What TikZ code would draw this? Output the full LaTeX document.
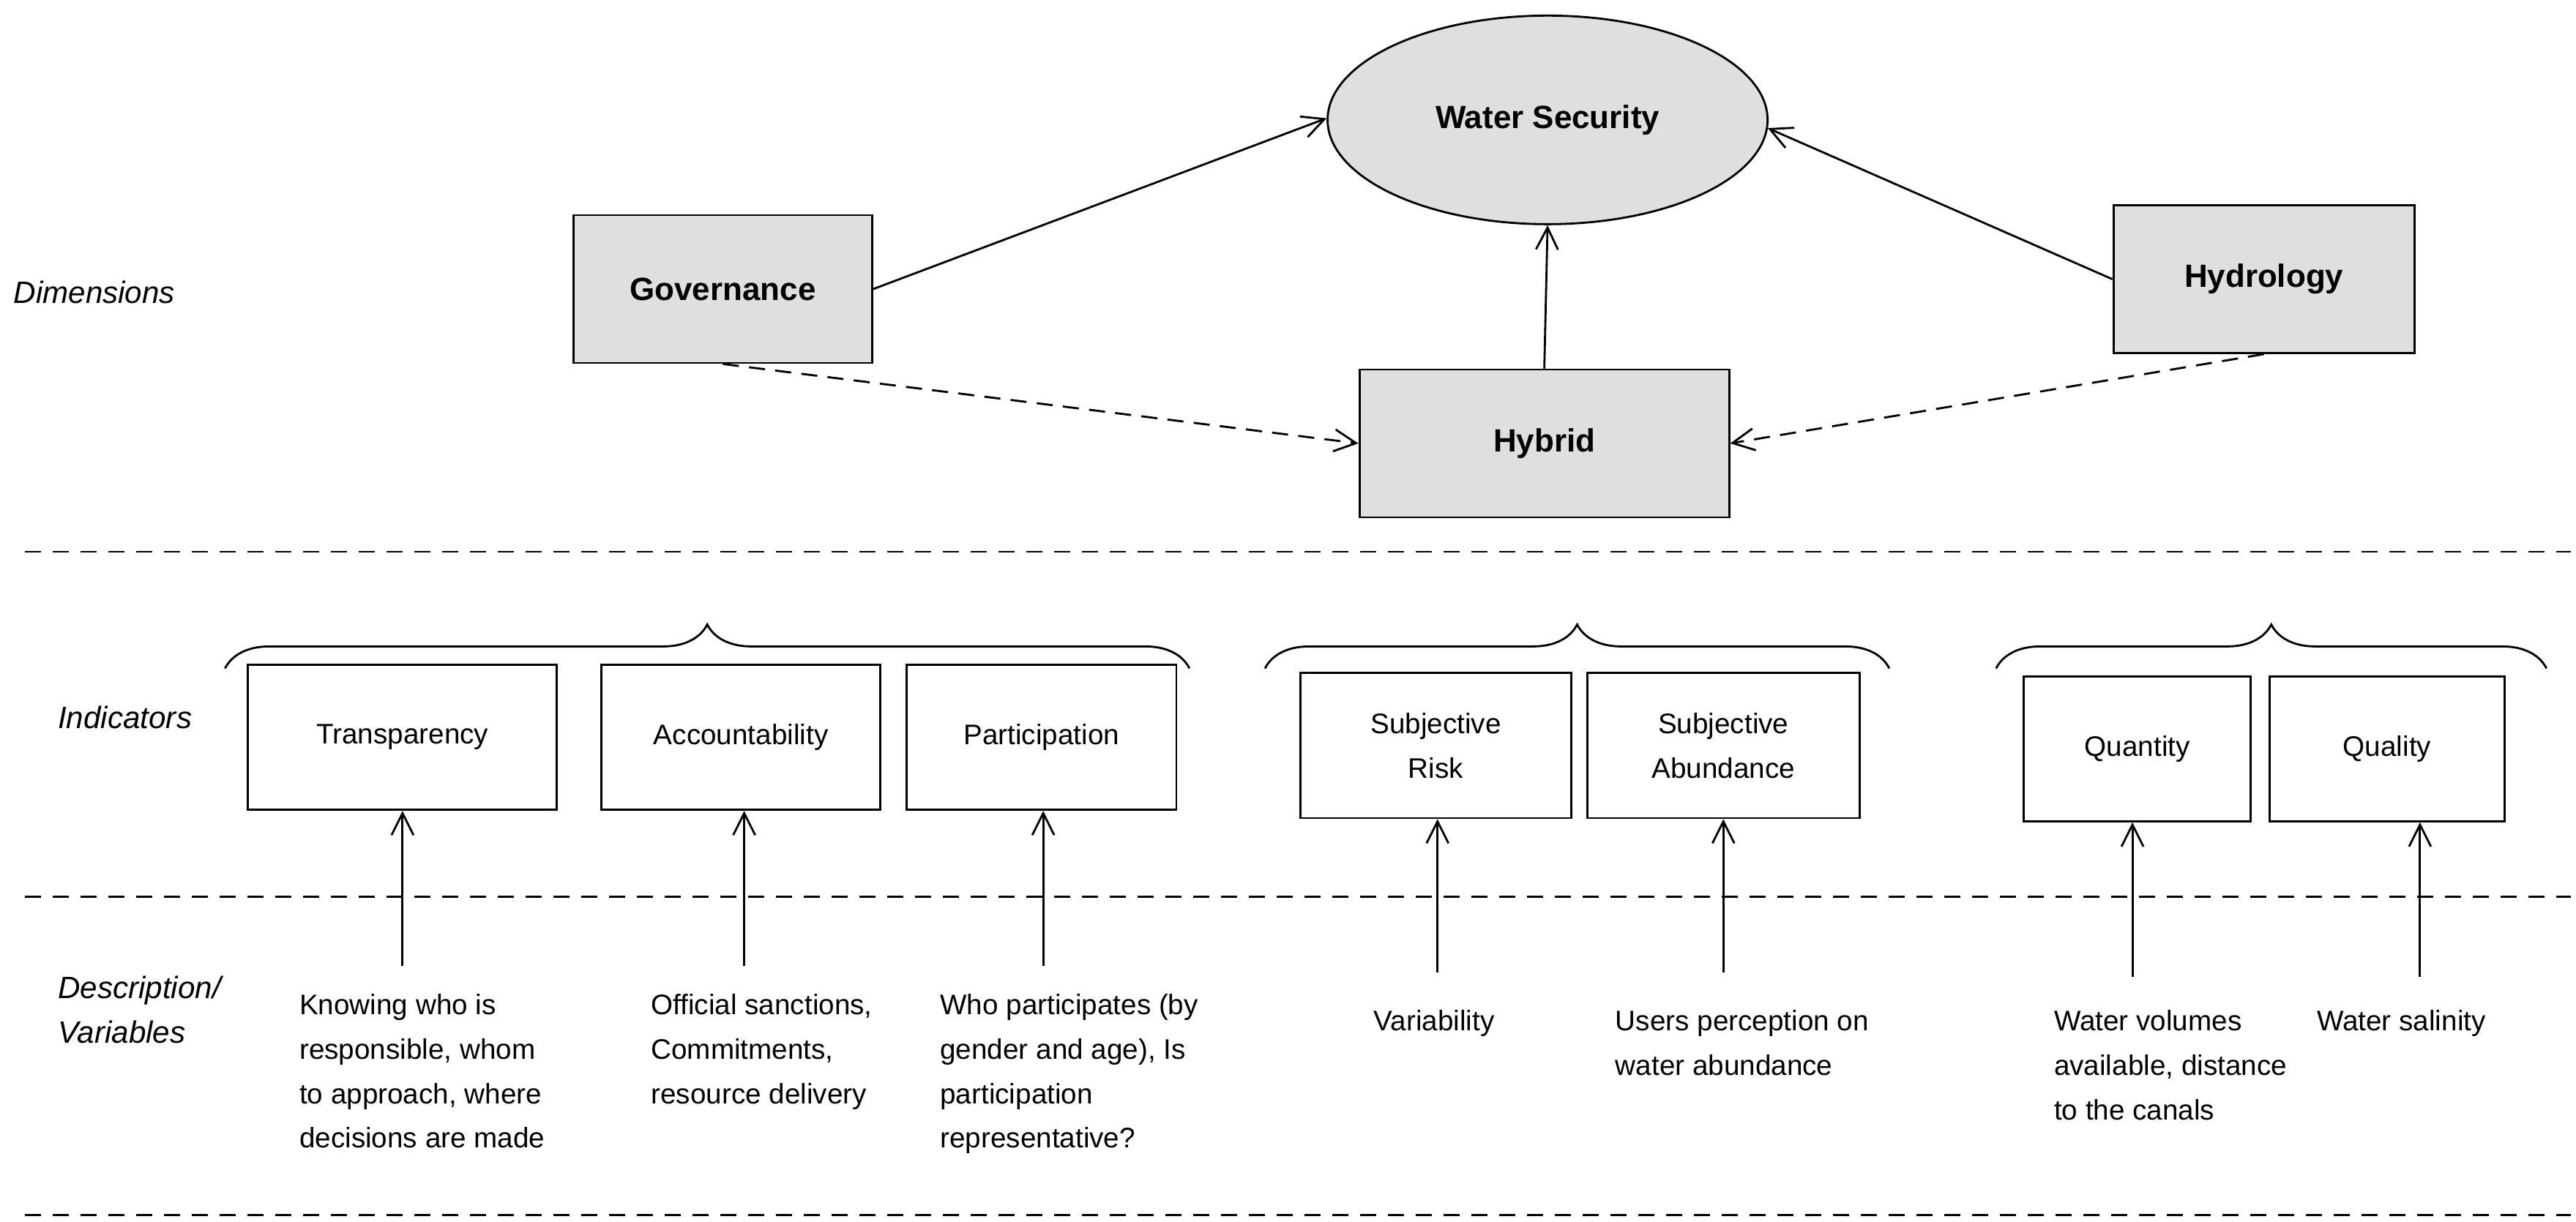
\documentclass[tikz,border=0pt]{standalone}
\usepackage{fontspec}
\setmainfont{Liberation Sans}
\usetikzlibrary{shapes.geometric, decorations.pathreplacing, arrows.meta}

\tikzset{
    dim/.style={draw, thick, fill=gray!25, font=\fontsize{12.5}{15}\selectfont\bfseries, minimum height=2.02cm},
    ind/.style={draw, thick, fill=white, align=center, minimum height=1.98cm},
    desc/.style={anchor=north west, align=left, inner sep=0pt},
    row/.style={font=\fontsize{12}{17.5}\selectfont\itshape, align=left, anchor=west, inner sep=0pt},
    link/.style={thick, -{Straight Barb[length=3mm, width=3mm]}},
    sep/.style={thick, dash pattern=on 2.2mm off 1.6mm},
    grp/.style={thick, decorate, decoration={brace, amplitude=6mm}}
}

\begin{document}
\begin{tikzpicture}[x=0.2244mm, y=-0.2244mm, font=\fontsize{11}{17.3}\selectfont]
    \useasboundingbox (0,0) rectangle (1568,744);

    % Dimensions
    \node[dim, ellipse, minimum width=6.01cm, minimum height=2.85cm] (ws) at (942,73) {Water Security};
    \node[dim, minimum width=4.08cm] (gov) at (440,176) {Governance};
    \node[dim, minimum width=5.05cm] (hyb) at (940,270) {Hybrid};
    \node[dim, minimum width=4.11cm] (hydro) at (1378,170) {Hydrology};

    \draw[link] (gov.east) -- (ws.west |- 0,72);
    \draw[link] (hydro.west) -- (1076,78);
    \draw[link] (hyb.north) -- (ws.south);
    \draw[link, dash pattern=on 2.2mm off 1.4mm] (gov.south) -- (hyb.west);
    \draw[link, dash pattern=on 2.2mm off 1.4mm] (hydro.south) -- (hyb.east);

    % Separators
    \foreach \y in {336, 546, 740}
        \draw[sep] (15,\y) -- (1565,\y);

    % Row labels
    \node[row] (lbldim) at (8,178) {Dimensions};
    \node[row] (lblind) at (35,437) {Indicators};
    \node[row, anchor=north west] (lbldesc) at (35,594) {Description/\\Variables};

    % Braces
    \draw[grp] (137,407) -- (724,407);
    \draw[grp] (770,407) -- (1150,407);
    \draw[grp] (1215,407) -- (1550,407);

    % Indicators
    \node[ind, minimum width=4.22cm] (trans) at (245,449) {Transparency};
    \node[ind, minimum width=3.81cm] (acc) at (451,449) {Accountability};
    \node[ind, minimum width=3.68cm] (part) at (634,449) {Participation};
    \node[ind, minimum width=3.70cm] (risk) at (874,454) {Subjective\\Risk};
    \node[ind, minimum width=3.72cm] (abund) at (1049,454) {Subjective\\Abundance};
    \node[ind, minimum width=3.10cm] (quant) at (1301,456) {Quantity};
    \node[ind, minimum width=3.21cm] (qual) at (1453,456) {Quality};

    % Descriptions
    \node[desc] (dtrans) at (182,605) {Knowing who is\\responsible, whom\\to approach, where\\decisions are made};
    \node[desc] (dacc) at (396,605) {Official sanctions,\\Commitments,\\resource delivery};
    \node[desc] (dpart) at (572,605) {Who participates (by\\gender and age), Is\\participation\\representative?};
    \node[desc] (drisk) at (836,615) {Variability};
    \node[desc] (dabund) at (983,615) {Users perception on\\water abundance};
    \node[desc] (dquant) at (1250,615) {Water volumes\\available, distance\\to the canals};
    \node[desc] (dqual) at (1410,615) {Water salinity};

    \coordinate (s1) at (245,588);
    \coordinate (s2) at (453,588);
    \coordinate (s3) at (635,588);
    \coordinate (s4) at (875,592);
    \coordinate (s5) at (1049,592);
    \coordinate (s6) at (1298,595);
    \coordinate (s7) at (1473,595);
    \draw[link] (s1) -- (s1 |- trans.south);
    \draw[link] (s2) -- (s2 |- acc.south);
    \draw[link] (s3) -- (s3 |- part.south);
    \draw[link] (s4) -- (s4 |- risk.south);
    \draw[link] (s5) -- (s5 |- abund.south);
    \draw[link] (s6) -- (s6 |- quant.south);
    \draw[link] (s7) -- (s7 |- qual.south);
\end{tikzpicture}
\end{document}
